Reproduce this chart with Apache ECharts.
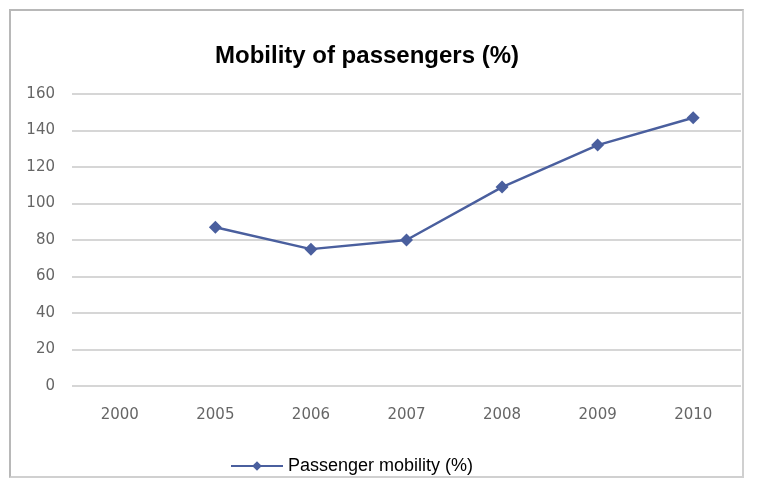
<!DOCTYPE html>
<html>
<head>
<meta charset="utf-8">
<script src="https://cdn.jsdelivr.net/npm/echarts@6/dist/echarts.min.js"></script>
<style>
  html, body { margin: 0; padding: 0; background: #fff; }
  #frame { position: absolute; left: 9px; top: 9px; width: 735px; height: 469px; border: 2px solid #b8b8b8; border-right-color: #d0d0d0; border-bottom-color: #d0d0d0; box-sizing: border-box; }
  #main { position: absolute; left: 0; top: 0; width: 757px; height: 491px; }
</style>
</head>
<body>
<div id="frame"></div>
<div id="main"></div>
<script>
// categories (years)
var years = ['2000', '2005', '2006', '2007', '2008', '2009', '2010'];
// passenger mobility values, 2000 has no value
var mobility = [null, 87, 75, 80, 109, 132, 147];
var seriesName = 'Passenger mobility (%)';
var chartTitle = 'Mobility of passengers (%)';

var myChart = echarts.init(document.getElementById('main'));

var option = {
    animation: false,
    title: {
        text: chartTitle,
        left: 362,
        top: 39,
        textAlign: 'center',
        textStyle: {
            color: '#000',
            fontFamily: 'Liberation Sans',
            fontWeight: 'bold',
            fontSize: 24
        }
    },
    legend: {
        top: 452,
        left: 225,
        itemWidth: 52,
        itemHeight: 12,
        itemGap: 5,
        data: [seriesName],
        textStyle: {
            color: '#000',
            fontFamily: 'Liberation Sans',
            fontSize: 18
        }
    },
    grid: {
        left: 72,
        right: 16,
        top: 94,
        bottom: 105,
        containLabel: false
    },
    xAxis: {
        type: 'category',
        data: years,
        boundaryGap: true,
        axisLine: { show: false },
        axisTick: { show: false },
        axisLabel: {
            color: '#666',
            fontFamily: 'DejaVu Sans',
            fontSize: 15,
            margin: 22
        }
    },
    yAxis: {
        type: 'value',
        min: 0,
        max: 160,
        interval: 20,
        axisLine: { show: false },
        axisTick: { show: false },
        axisLabel: {
            color: '#666',
            fontFamily: 'DejaVu Sans',
            fontSize: 15,
            margin: 17
        },
        splitLine: {
            lineStyle: { color: '#c8c8c8', width: 1.5 }
        }
    },
    series: [
        {
            name: seriesName,
            type: 'line',
            data: mobility,
            symbol: 'diamond',
            symbolSize: 13,
            connectNulls: false,
            itemStyle: { color: '#4a5f9e' },
            lineStyle: { color: '#4a5f9e', width: 2.5 }
        }
    ]
};
myChart.setOption(option);
</script>
</body>
</html>
